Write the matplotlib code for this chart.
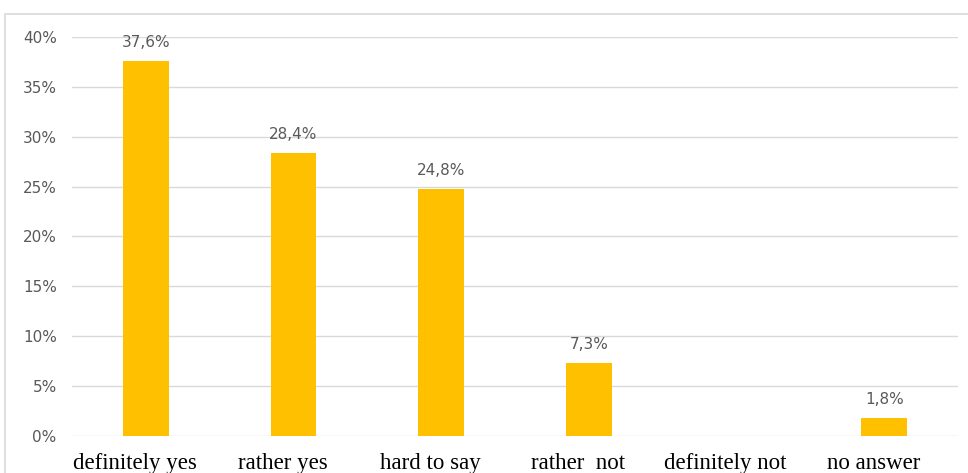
import matplotlib.pyplot as plt
from matplotlib.patches import Rectangle
from matplotlib.ticker import FuncFormatter
from matplotlib.transforms import ScaledTranslation

categories = ["definitely yes", "rather yes", "hard to say", "rather  not", "definitely not", "no answer"]
shares = [37.6, 28.4, 24.8, 7.3, 0.0, 1.8]
value_labels = ["37,6%", "28,4%", "24,8%", "7,3%", "", "1,8%"]
yticks = [0, 5, 10, 15, 20, 25, 30, 35, 40]

fig = plt.figure(figsize=(9.68, 4.73), dpi=100)
ax = fig.add_axes([0.0744, 0.0782, 0.9153, 0.8436])

# outer chart frame
fig.patches.append(Rectangle((5 / 968, -0.1), 1.0, 1.1 - 14 / 473,
                             transform=fig.transFigure, fill=False,
                             edgecolor="#d9d9d9", linewidth=1.2))

x = list(range(len(categories)))
ax.bar(x, shares, width=0.31, color="#FFC000", zorder=3)

for xi, v, lab in zip(x, shares, value_labels):
    if lab:
        ax.annotate(lab, (xi, v), xytext=(0, 8), textcoords="offset points",
                    ha="center", va="bottom", fontsize=11, color="#595959")

ax.set_xlim(-0.5, len(categories) - 0.5)
ax.set_ylim(0, 40)
ax.set_yticks(yticks)
ax.yaxis.set_major_formatter(FuncFormatter(lambda v, p: f"{v:.0f}%"))
ax.grid(axis="y", color="#d9d9d9", linewidth=1, zorder=0)
ax.tick_params(axis="y", length=0, pad=11, labelsize=11, labelcolor="#595959")

ax.set_xticks(x)
ax.set_xticklabels(categories, family="Liberation Serif", fontsize=16.5, color="black")
ax.tick_params(axis="x", length=0, pad=12)
shift = ScaledTranslation(-0.11, 0, fig.dpi_scale_trans)
for t in ax.get_xticklabels():
    t.set_transform(t.get_transform() + shift)

for s in ax.spines.values():
    s.set_visible(False)

fig.savefig("out.png", dpi=100)
